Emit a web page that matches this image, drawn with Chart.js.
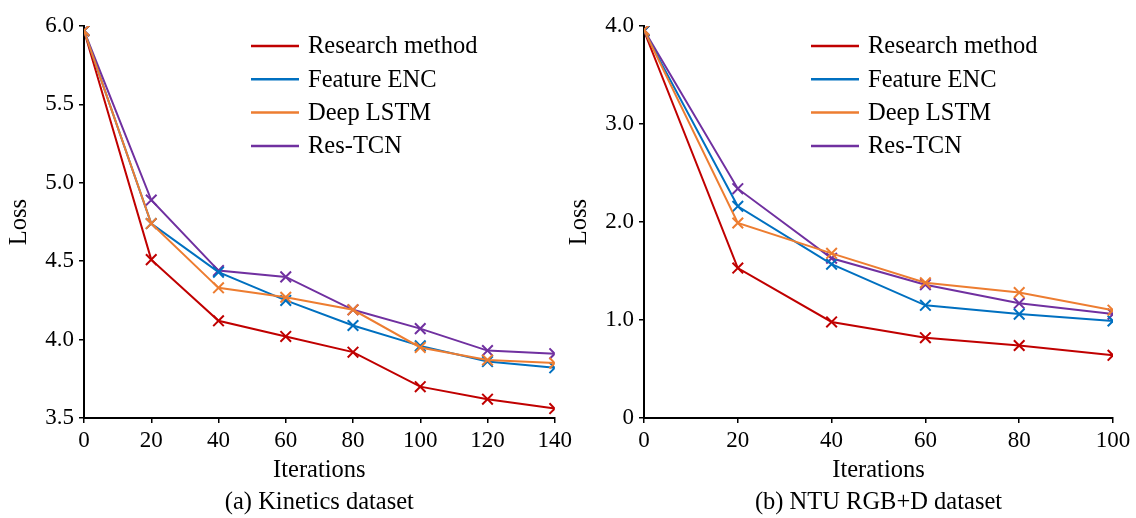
<!DOCTYPE html>
<html><head><meta charset="utf-8">
<script src="https://cdn.jsdelivr.net/npm/chart.js@4/dist/chart.umd.min.js"></script>
<style>
html,body{margin:0;padding:0;background:#fff;width:1136px;height:518px;overflow:hidden}
.box{position:absolute;top:0;width:576px;height:518px}
</style></head><body>
<div class="box" style="left:0"><canvas id="c1" width="576" height="518"></canvas></div>
<div class="box" style="left:560px"><canvas id="c2" width="576" height="518"></canvas></div>
<script>
// ---- data ----
const seriesNames = ['Research method', 'Feature ENC', 'Deep LSTM', 'Res-TCN'];
const seriesColors = ['#C00000', '#0070C0', '#ED7D31', '#7030A0'];

const kineticsIterations = [0, 20, 40, 60, 80, 100, 120, 140];
const kineticsResearch   = [5.97, 4.51, 4.12, 4.02, 3.92, 3.70, 3.62, 3.56];
const kineticsFeatureENC = [5.97, 4.74, 4.43, 4.25, 4.09, 3.96, 3.86, 3.82];
const kineticsDeepLSTM   = [5.97, 4.74, 4.33, 4.27, 4.19, 3.95, 3.87, 3.85];
const kineticsResTCN     = [5.97, 4.89, 4.44, 4.40, 4.19, 4.07, 3.93, 3.91];
const kineticsXTicks = ['0', '20', '40', '60', '80', '100', '120', '140'];
const kineticsYTicks = ['3.5', '4.0', '4.5', '5.0', '5.5', '6.0'];

const ntuIterations = [0, 20, 40, 60, 80, 100];
const ntuResearch   = [3.95, 1.53, 0.98, 0.82, 0.74, 0.64];
const ntuFeatureENC = [3.95, 2.16, 1.57, 1.15, 1.06, 0.99];
const ntuDeepLSTM   = [3.96, 1.99, 1.68, 1.38, 1.28, 1.10];
const ntuResTCN     = [3.96, 2.34, 1.63, 1.36, 1.17, 1.06];
const ntuXTicks = ['0', '20', '40', '60', '80', '100'];
const ntuYTicks = ['0', '1.0', '2.0', '3.0', '4.0'];

const xTitle = 'Iterations';
const yTitle = 'Loss';
const captionKinetics = '(a) Kinetics dataset';
const captionNTU = '(b) NTU RGB+D dataset';

// ---- rendering ----
const FONT = 'Liberation Serif';
const drawOrder = [4, 2, 1, 3];

const insideLegend = {
  id: 'insideLegend',
  afterDatasetsDraw(chart) {
    const ctx = chart.ctx;
    ctx.save();
    chart.data.datasets.forEach((ds, i) => {
      const y = 46 + i * 33.3;
      ctx.strokeStyle = ds.borderColor;
      ctx.lineWidth = 2.5;
      ctx.beginPath();
      ctx.moveTo(251, y);
      ctx.lineTo(299, y);
      ctx.stroke();
      ctx.fillStyle = '#000';
      ctx.font = '24.5px "' + FONT + '"';
      ctx.textBaseline = 'middle';
      ctx.textAlign = 'left';
      ctx.fillText(ds.label, 308, y + 1);
    });
    ctx.restore();
  }
};

function makeChart(id, xs, series, yMin, yMax, yStep, yLabels, xMax, xLabels, caption, padRight) {
  return new Chart(document.getElementById(id), {
    type: 'line',
    data: {
      datasets: series.map((vals, i) => ({
        label: seriesNames[i],
        data: xs.map((x, j) => ({ x: x, y: vals[j] })),
        borderColor: seriesColors[i],
        backgroundColor: seriesColors[i],
        borderWidth: 2,
        pointStyle: 'crossRot',
        pointRadius: 7.5,
        pointHoverRadius: 7.5,
        pointBorderWidth: 2,
        tension: 0,
        order: drawOrder[i]
      }))
    },
    options: {
      responsive: false,
      animation: false,
      devicePixelRatio: 1,
      layout: { padding: { left: 0, right: padRight, top: 26, bottom: -1 } },
      plugins: { legend: { display: false }, tooltip: { enabled: false } },
      scales: {
        x: {
          type: 'linear', min: 0, max: xMax,
          ticks: {
            stepSize: 20, autoSkip: false, maxRotation: 0, padding: 4,
            color: '#000', font: { family: FONT, size: 23 },
            callback: (v) => xLabels[Math.round(v / 20)]
          },
          grid: { drawOnChartArea: false, drawTicks: true, tickLength: 5, color: '#000', lineWidth: 1.5 },
          border: { color: '#000', width: 2 },
          title: {
            display: true, text: [xTitle, caption], color: '#000',
            font: { family: FONT, size: 24.5, lineHeight: '32px' },
            padding: { top: 0, bottom: 0 }
          },
          afterFit(s) { s.height = 101; }
        },
        y: {
          type: 'linear', min: yMin, max: yMax,
          ticks: {
            stepSize: yStep, autoSkip: false, padding: 5,
            color: '#000', font: { family: FONT, size: 23 },
            callback: (v) => yLabels[Math.round((v - yMin) / yStep)]
          },
          grid: { drawOnChartArea: false, drawTicks: true, tickLength: 5, color: '#000', lineWidth: 1.5 },
          border: { color: '#000', width: 2 },
          title: {
            display: true, text: yTitle, color: '#000',
            font: { family: FONT, size: 24.5 },
            padding: { top: 5, bottom: 0 }
          },
          afterFit(s) { s.width = 84; }
        }
      }
    },
    plugins: [insideLegend]
  });
}

makeChart('c1', kineticsIterations,
  [kineticsResearch, kineticsFeatureENC, kineticsDeepLSTM, kineticsResTCN],
  3.5, 6.0, 0.5, kineticsYTicks, 140, kineticsXTicks, captionKinetics, 21);

makeChart('c2', ntuIterations,
  [ntuResearch, ntuFeatureENC, ntuDeepLSTM, ntuResTCN],
  0, 4, 1, ntuYTicks, 100, ntuXTicks, captionNTU, 23);
</script>
</body></html>
